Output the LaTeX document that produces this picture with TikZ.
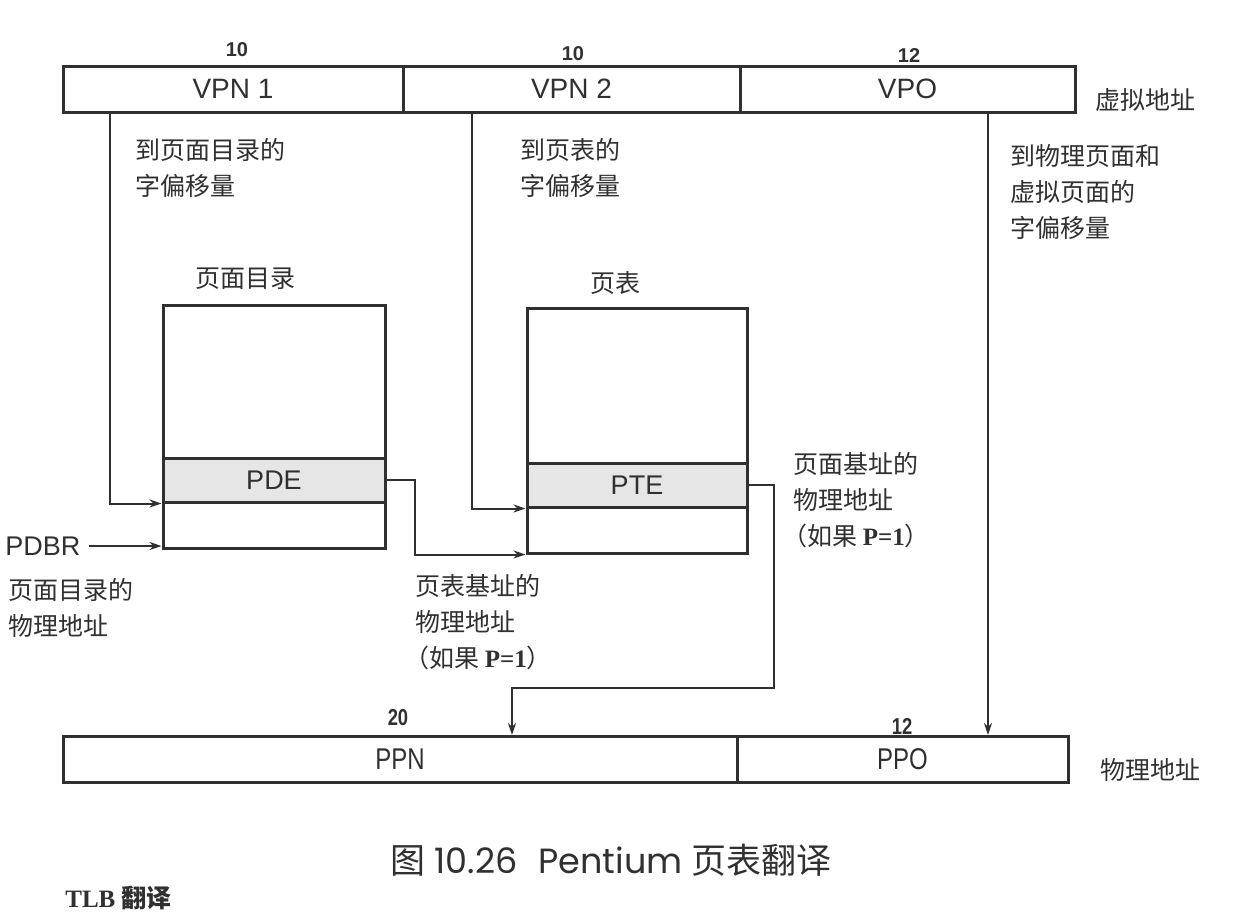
\documentclass[tikz,border=0pt]{standalone}
\usepackage{fontspec}
\setmainfont{Liberation Serif}
\setsansfont{Liberation Sans}
\newfontfamily\cjk{Noto Sans CJK SC}
\newfontfamily\narrowsf[FakeStretch=0.8]{Liberation Sans}
\newfontfamily\capfont{Poppins}
\usetikzlibrary{arrows.meta}
\definecolor{ink}{HTML}{303030}
\definecolor{rowfill}{HTML}{E6E6E6}
\tikzset{
  field/.style={draw=ink, line width=1.5pt, inner sep=0pt, minimum height=23pt,
    font=\sffamily\fontsize{14}{16}\selectfont, text=ink},
  cell/.style={draw=ink, line width=1.5pt, inner sep=0pt,
    font=\sffamily\fontsize{13.5}{16}\selectfont, text=ink},
  bits/.style={font=\sffamily\bfseries\fontsize{10}{12}\selectfont, text=ink, inner sep=0pt},
  lbl/.style={font=\cjk\fontsize{12.5}{18}\selectfont, text=ink, align=left,
    inner sep=0pt, anchor=west},
  conn/.style={draw=ink, line width=1pt, -{Stealth[length=6pt,width=4pt]}},
}
\newcommand{\ifpone}{\kern-0.45em（如果 {\rmfamily\bfseries P=1}）}
\begin{document}
\begin{tikzpicture}[x=0.5pt,y=-0.5pt]
\clip (0,0) rectangle (1250,918);
\path[use as bounding box, fill=white] (0,0) rectangle (1250,918);

% virtual address
\node[field, minimum width=170pt]   (vpn1) at (233,89)   {VPN 1};
\node[field, minimum width=168.5pt] (vpn2) at (571.5,89) {VPN 2};
\node[field, minimum width=167.5pt] (vpo)  at (907.5,89) {VPO};
\node[bits] (b1) at (237,50) {10};
\node[bits] (b2) at (573,54) {10};
\node[bits] (b3) at (909,56) {12};
\node[lbl] (va) at (1095,100) {虚拟地址};

% page directory
\node[cell, minimum width=111pt, minimum height=76.5pt] (pdtop) at (274,381.5) {};
\node[cell, fill=rowfill, minimum width=111pt, minimum height=22pt] (pde) at (274,480) {PDE};
\node[cell, minimum width=111pt, minimum height=23pt] (pdbot) at (274,525) {};
\node[lbl] (pdname) at (195,279) {页面目录};

% page table
\node[cell, minimum width=110pt, minimum height=77.5pt] (pttop) at (637,385.5) {};
\node[cell, fill=rowfill, minimum width=110pt, minimum height=22pt] (pte) at (637,485) {PTE};
\node[cell, minimum width=110pt, minimum height=23pt] (ptbot) at (637,530) {};
\node[lbl] (ptname) at (590,283) {页表};

% physical address
\node[field, minimum width=337pt, font=\narrowsf\fontsize{15}{16}\selectfont]   (ppn) at (400,759.5)   {PPN};
\node[field, minimum width=165.5pt, font=\narrowsf\fontsize{15}{16}\selectfont] (ppo) at (902.5,759.5) {PPO};
\node[bits, font=\narrowsf\bfseries\fontsize{11.5}{12}\selectfont] (b4) at (398,718) {20};
\node[bits, font=\narrowsf\bfseries\fontsize{11.5}{12}\selectfont] (b5) at (902,726) {12};
\node[lbl] (pa) at (1100,770) {物理地址};

% side labels
\node[lbl] (l1) at (135,168) {到页面目录的\\字偏移量};
\node[lbl] (l2) at (520,168) {到页表的\\字偏移量};
\node[lbl] (l3) at (1010,192) {到物理页面和\\虚拟页面的\\字偏移量};
\node[font=\sffamily\fontsize{13.5}{16}\selectfont, text=ink, inner sep=0pt, anchor=west] (pdbr) at (5,546) {PDBR};
\node[lbl] (l4) at (8,608) {页面目录的\\物理地址};
\node[lbl] (l5) at (415,622) {页表基址的\\物理地址\\\ifpone};
\node[lbl] (l6) at (793,500) {页面基址的\\物理地址\\\ifpone};

% connectors
\coordinate (x1) at (110,0);
\coordinate (x2) at (472,0);
\coordinate (x3) at (988,0);
\draw[conn] (x1 |- vpn1.south) |- (pde.south west);
\draw[conn] (x2 |- vpn2.south) |- (pte.south west);
\draw[conn] (x3 |- vpo.south) -- (x3 |- ppo.north);
\draw[conn] ([xshift=4pt]pdbr.east) -- (pdbr.east -| pdbot.west);
\draw[conn] (pde.east) -- ++(28,0) |- (ptbot.south west);
\coordinate (turn) at (512,688);
\draw[conn] (pte.east) -- ++(25,0) |- (turn) -- (turn |- ppn.north);

% caption
\node[font=\capfont\fontsize{17.5}{20}\selectfont, text=ink, inner sep=0pt] (cap) at (611,860)
  {{\cjk 图} 10.26\hspace{0.6em}Pentium {\cjk 页表翻译}};
\node[font=\rmfamily\bfseries\fontsize{12.5}{14}\selectfont, text=ink, inner sep=0pt, anchor=north west] (tlb) at (65,886)
  {TLB {\cjk 翻译}};
\end{tikzpicture}
\end{document}
